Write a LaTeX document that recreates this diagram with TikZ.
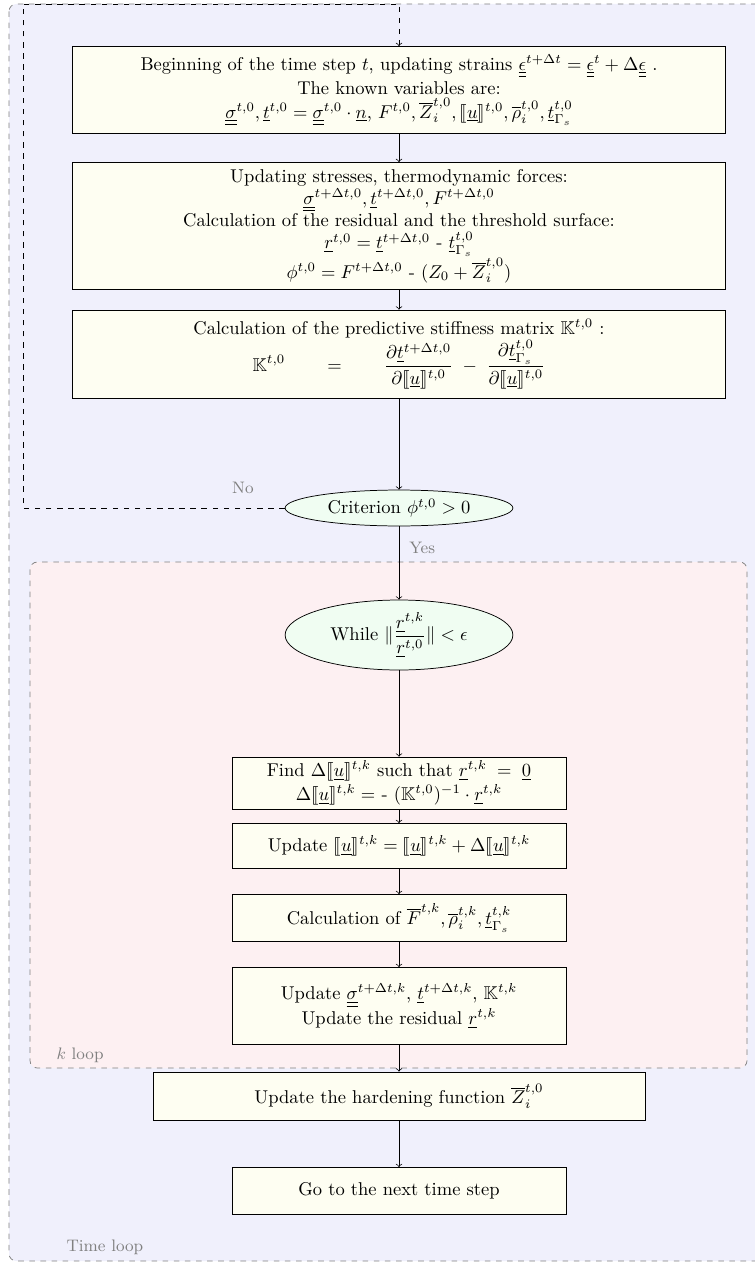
\documentclass[tikz,border=0pt]{standalone}
\usepackage{amsmath,amssymb,stmaryrd}
\usetikzlibrary{shapes.geometric,positioning}

\definecolor{timebg}{RGB}{240,240,252}
\definecolor{kbg}{RGB}{253,240,242}
\definecolor{boxfill}{RGB}{254,254,242}
\definecolor{testfill}{RGB}{240,253,242}

\newcommand{\ssig}{\underline{\underline{\sigma}}}
\newcommand{\seps}{\underline{\underline{\epsilon}}}
\newcommand{\jump}{\llbracket\underline{u}\rrbracket}

\begin{document}
\begin{tikzpicture}[
  x=0.54pt, y=-0.54pt,
  stepbox/.style={rectangle, draw, fill=boxfill, align=center, inner sep=2pt},
  test/.style={ellipse, draw, fill=testfill, align=center, inner sep=1pt, minimum width=123pt},
  loopframe/.style={draw=gray, dashed, rounded corners=4pt},
  looplabel/.style={text=gray, font=\small},
  line/.style={draw, ->},
  feedback/.style={draw, dashed, ->}
]
\useasboundingbox (0,0) rectangle (755,1264);
\clip (0,0) rectangle (755,1264);

% loops
\draw [loopframe, fill=timebg] (9,4) rectangle (790,1261);
\draw [loopframe, fill=kbg] (30,562) rectangle (747,1068);
\node [looplabel, anchor=west] (timelabel) at (60,1247) {Time loop};
\node [looplabel, anchor=west] (klabel) at (50,1055) {$k$ loop};

% time step
\node [stepbox, minimum width=353pt, minimum height=47pt] (start) at (399,90)
  {Beginning of the time step $t$, updating strains $\seps^{t+\Delta t} = \seps^{t} + \Delta\seps$ .\\[1pt]
   The known variables are:\\[1pt]
   $\ssig^{t,0}, \underline{t}^{t,0} = \ssig^{t,0}\cdot\underline{n}$, $F^{t,0}, \overline{Z}_i^{t,0}, \jump^{t,0}, \overline{\rho}_i^{t,0}, \underline{t}_{\Gamma_s}^{t,0}$};
\node [stepbox, minimum width=353pt, minimum height=68.6pt] (stress) at (399,226)
  {Updating stresses, thermodynamic forces:\\
   $\ssig^{t+\Delta t,0}, \underline{t}^{t+\Delta t,0}, F^{t+\Delta t,0}$\\
   Calculation of the residual and the threshold surface:\\
   $\underline{r}^{t,0} = \underline{t}^{t+\Delta t,0}$ - $\underline{t}_{\Gamma_s}^{t,0}$\\
   $\phi^{t,0} = F^{t+\Delta t,0}$ - $(Z_0 + \overline{Z}_i^{t,0})$};
\node [stepbox, minimum width=353pt, minimum height=47.5pt] (stiff) at (399,354)
  {Calculation of the predictive stiffness matrix $\mathbb{K}^{t,0}$ :\\
   $\displaystyle \mathbb{K}^{t,0} \qquad = \qquad \frac{\partial\underline{t}^{t+\Delta t,0}}{\partial\jump^{t,0}} \;-\; \frac{\partial\underline{t}_{\Gamma_s}^{t,0}}{\partial\jump^{t,0}}$};
\node [test, minimum height=19.4pt] (crit) at (399,508) {Criterion $\phi^{t,0} > 0$};

% k loop
\node [test, minimum height=37.8pt] (while) at (399,635)
  {While $\|\dfrac{\underline{r}^{t,k}}{\underline{r}^{t,0}}\| < \epsilon$};
\node [stepbox, minimum width=180.4pt, minimum height=27pt] (find) at (399,783)
  {Find $\Delta\jump^{t,k}$ such that $\underline{r}^{t,k}\;=\;\underline{0}$\\[1pt]
   $\Delta\jump^{t,k} =$ - $(\mathbb{K}^{t,0})^{-1}\cdot\underline{r}^{t,k}$};
\node [stepbox, minimum width=180.4pt, minimum height=24.3pt] (jumpupd) at (399,846)
  {Update $\jump^{t,k} = \jump^{t,k} + \Delta\jump^{t,k}$};
\node [stepbox, minimum width=180.4pt, minimum height=25.4pt] (calc) at (399,918)
  {Calculation of $\overline{F}^{t,k}, \overline{\rho}_i^{t,k}, \underline{t}_{\Gamma_s}^{t,k}$};
\node [stepbox, minimum width=180.4pt, minimum height=41.6pt] (resid) at (399,1006)
  {Update $\ssig^{t+\Delta t,k}$, $\underline{t}^{t+\Delta t,k}$, $\mathbb{K}^{t,k}$\\
   Update the residual $\underline{r}^{t,k}$};

% end of step
\node [stepbox, minimum width=265.7pt, minimum height=26pt] (harden) at (399,1096)
  {Update the hardening function $\overline{Z}_i^{t,0}$};
\node [stepbox, minimum width=180.4pt, minimum height=25.4pt] (next) at (399,1191)
  {Go to the next time step};

\coordinate (fbcorner) at (23,4);

\path [line] (start) -- (stress);
\path [line] (stress) -- (stiff);
\path [line] (stiff) -- (crit);
\path [line] (crit) -- node [looplabel, pos=0.3, right=2pt] {Yes} (while);
\path [line] (while) -- (find);
\path [line] (find) -- (jumpupd);
\path [line] (jumpupd) -- (calc);
\path [line] (calc) -- (resid);
\path [line] (resid) -- (harden);
\path [line] (harden) -- (next);
\path [feedback] (crit.west) -| node [looplabel, pos=0.08, above=4pt] {No} (fbcorner) -| (start.north);
\end{tikzpicture}
\end{document}
